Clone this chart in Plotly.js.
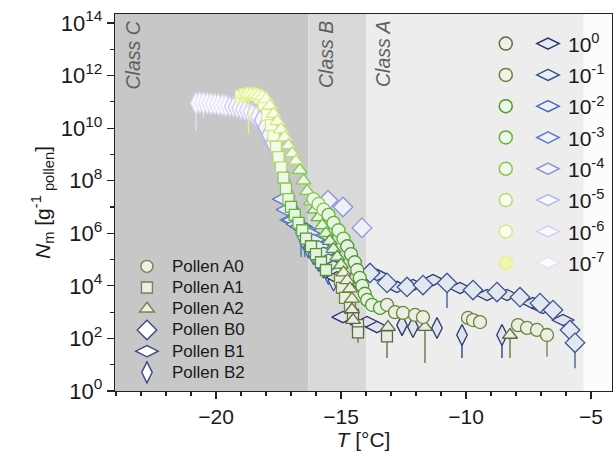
<!DOCTYPE html>
<html><head><meta charset="utf-8">
<script src="https://cdn.plot.ly/plotly-3.0.1.min.js"></script>
<style>html,body{margin:0;padding:0;background:#fff}#chart{width:614px;height:460px}</style>
</head><body><div id="chart"></div>
<script>
// ---------------- data ----------------
const DILUTION_LABELS = ['10<sup>0</sup>','10<sup>-1</sup>','10<sup>-2</sup>','10<sup>-3</sup>','10<sup>-4</sup>','10<sup>-5</sup>','10<sup>-6</sup>','10<sup>-7</sup>'];
const Y_TICK_VALUES = [1e0,1e2,1e4,1e6,1e8,1e10,1e12,1e14];
const Y_TICK_LABELS = ['10<sup>0</sup>','10<sup>2</sup>','10<sup>4</sup>','10<sup>6</sup>','10<sup>8</sup>','10<sup>10</sup>','10<sup>12</sup>','10<sup>14</sup>'];
const Y_MINOR_VALUES = [1e1,1e3,1e5,1e7,1e9,1e11,1e13];
const CLASS_EDGES = [-24.04, -16.3, -14.0, -5.3];
const CLASS_NAMES = ['Class C','Class B','Class A'];
const SERIES_NAMES = ['Pollen A0','Pollen A1','Pollen A2','Pollen B0','Pollen B1','Pollen B2'];

// Pollen A0 (circles)
const A0_T = [-16.1,-15.9,-15.7, -15.5,-15.3,-15.1,-14.9, -14.75,-14.6,-14.45,-14.35,-14.25,-14.15,-14.05, -13.95,-13.76,-13.44,-13.16,-12.84,-12.52,-12.04,-11.72, -9.92,-9.72,-9.44,-7.92,-7.56,-7.16,-6.76];
const A0_N = [2.0e7,1.3e7,7.9e6, 5.0e6,2.5e6,1.3e6,6.3e5, 3.2e5,1.6e5,7.9e4,4.0e4,2.0e4,1.0e4,5.0e3, 2.9e3,1.9e3,1.45e3,1.9e3,1.0e3,9.3e2,7.8e2,6.5e2, 6.0e2,5.0e2,4.2e2,3.2e2,2.5e2,2.1e2,1.35e2];
const A0_D = [4,4,4, 3,3,3,3, 2,2,2,2,2,2,2, 2,2,2,1,1,1,1,1, 1,1,1,1,1,1,1];
const A0_LOW = [null,null,null, null,null,null,null, null,null,null,null,null,null,null, null,null,null,null,null,null,null,null, null,null,null,null,null,null,20];

// Pollen A1 (squares)
const A1_T = [-19.0,-18.85,-18.7,-18.55,-18.4,-18.25, -18.1,-17.95,-17.8,-17.7, -17.6,-17.5,-17.4, -17.3,-17.2,-17.1, -17.0,-16.85,-16.7,-16.55, -16.4,-16.2,-16.0,-15.8,-15.6, -15.04,-14.96,-14.84,-14.64, -14.52,-14.32,-14.32,-13.16];
const A1_N = [1.6e11,1.9e11,2.0e11,2.0e11,1.8e11,1.4e11, 7.9e10,3.2e10,1.3e10,5.0e9, 2.0e9,7.9e8,3.2e8, 1.3e8,5.0e7,2.0e7, 1.0e7,5.0e6,2.5e6,1.3e6, 6.3e5,3.2e5,1.6e5,7.9e4,4.0e4, 1.7e4,8.3e3,3.5e3,1.5e3, 7.8e2,3.2e2,1.7e2,1.2e2];
const A1_D = [7,7,7,7,7,7, 6,6,6,6, 5,5,5, 4,4,4, 3,3,3,3, 2,2,2,2,2, 1,1,1,1, 0,0,0,0];
const A1_LOW = [null,null,6.3e9,null,null,null, null,null,null,null, null,null,null, null,null,null, null,null,null,null, null,null,null,null,null, null,null,null,null, null,null,68,18];

// Pollen A2 (triangles)
const A2_T = [-18.9,-18.75,-18.6,-18.45,-18.3,-18.15,-18.0, -17.85,-17.7,-17.55,-17.4,-17.25, -17.1,-16.95,-16.8, -16.65,-16.5,-16.35,-16.2, -16.05,-15.9,-15.75,-15.6, -15.45,-15.3,-15.15,-15.0, -14.9,-14.75,-14.64,-14.56, -14.56,-14.52,-13.12,-11.64,-8.24];
const A2_N = [1.8e11,2.0e11,2.0e11,1.9e11,1.8e11,1.6e11,1.26e11, 7.1e10,3.5e10,1.8e10,8.9e9,4.5e9, 2.2e9,1.1e9,5.6e8, 2.5e8,1.0e8,4.0e7,1.6e7, 7.9e6,4.0e6,2.0e6,1.0e6, 5.0e5,2.5e5,1.26e5,6.3e4, 3.2e4,1.6e4,7.9e3,3.2e3, 1.26e3,5.0e2,2.7e2,2.7e2,1.35e2];
const A2_D = [7,7,7,7,7,7,7, 6,6,6,6,6, 5,5,5, 4,4,4,4, 3,3,3,3, 2,2,2,2, 1,1,1,1, 0,0,0,0,0];
const A2_LOW = [null,null,null,null,null,null,null, null,null,null,null,null, null,null,null, null,null,null,null, null,null,null,null, null,null,null,null, null,null,null,null, null,null,null,11.5,18];

// Pollen B0 (diamonds)
const B0_T = [-15.52,-14.92,-14.16, -14.4,-13.84,-13.16,-12.36,-11.72,-10.76,-9.72,-8.76,-7.84,-7.04,-6.52,-5.84,-5.64];
const B0_N = [1.8e7,1.0e7,1.6e6, 2.0e4,3.1e4,1.3e4,9.1e3,1.07e4,1.29e4,6.9e3,5.8e3,3.7e3,2.2e3,1.2e3,2.1e2,68];
const B0_D = [4,4,4, 1,1,1,1,1,1,1,1,1,1,1,1,1];
const B0_LOW = [null,null,null, null,null,null,null,null,1.45e3,null,null,null,9.3e2,null,null,7.4];

// Pollen B1 (wide diamonds)
const B1_T = [-17.3,-17.15,-17.0, -16.9,-16.75,-16.6,-16.45,-16.3,-16.1,-15.9,-15.7,-15.5, -15.3,-15.15,-15.0, -15.16,-14.92,-13.96,-13.56, -14.2,-13.56,-12.76,-12.12,-11.32,-10.24,-9.16,-8.36,-7.32,-6.92,-6.12];
const B1_N = [2.0e7,7.9e6,3.2e6, 3.2e6,2.2e6,1.8e6,1.4e6,1.0e6,5.6e5,3.2e5,1.8e5,1.0e5, 5.6e4,3.2e4,2.0e4, 2.1e4,6.5e2,4.2e2,2.7e2, 2.5e4,2.6e4,9.1e3,1.07e4,1.66e4,8.3e3,4.5e3,4.5e3,2.2e3,1.45e3,5.0e2];
const B1_D = [3,3,3, 2,2,2,2,2,2,2,2,2, 1,1,1, 0,0,0,0, 0,0,0,0,0,0,0,0,0,0,0];
const B1_LOW = [null,null,null, null,null,1.26e5,1.26e5,1.26e5,null,null,null,null, null,null,null, null,null,null,null, null,null,null,null,null,null,null,null,null,null,null];

// Pollen B2 (tall diamonds)
const B2_T = [-20.8,-20.65,-20.5,-20.35,-20.2,-20.05,-19.9,-19.75,-19.6, -19.45,-19.3,-19.15,-19.0,-18.85,-18.7,-18.55,-18.4, -18.25,-18.1,-17.95,-17.8,-17.65, -17.5,-17.35,-17.2,-17.05, -16.9,-16.75,-16.6,-16.45, -16.3,-16.1,-15.9, -15.7,-15.5,-15.3, -14.6,-12.56,-12.12,-11.16,-10.16,-8.56];
const B2_N = [8.9e10,9.3e10,9.1e10,8.9e10,8.5e10,8.3e10,7.9e10,7.6e10,7.2e10, 6.6e10,6.2e10,5.8e10,5.2e10,4.8e10,4.2e10,3.5e10,2.8e10, 2.0e10,1.1e10,5.6e9,2.8e9,1.4e9, 6.3e8,2.2e8,7.9e7,2.5e7, 7.9e6,2.8e6,1.0e6,5.0e5, 2.8e5,1.6e5,8.9e4, 5.0e4,2.8e4,1.6e4, 7.9e2,3.2e2,2.7e2,2.5e2,1.35e2,1.35e2];
const B2_D = [7,7,7,7,7,7,7,7,7, 6,6,6,6,6,6,6,6, 5,5,5,5,5, 4,4,4,4, 3,3,3,3, 2,2,2, 1,1,1, 0,0,0,0,0,0];
const B2_LOW = [7.9e9,null,2.5e10,null,null,null,3.2e10,null,null, null,null,null,null,null,null,null,null, null,null,null,null,null, null,null,null,null, null,null,null,null, null,null,null, null,null,null, null,null,null,null,18,18];

// ---------------- styles ----------------
const PAL_A = ['#5e6a3c','#6e8436','#4f9a2c','#5db536','#86c84e','#b5dc72','#d4ea80','#e6f290'];
const PAL_B = ['#26366e','#3a5690','#4a6cb0','#5e7cc8','#8c94d6','#b2b6e4','#cfd0f0','#e2e2f6'];
const FONT = 'Liberation Sans, Arial, sans-serif';

function tint(hex, f) {
  const n = parseInt(hex.slice(1), 16);
  const r = (n >> 16) & 255, g = (n >> 8) & 255, b = n & 255;
  const m = v => Math.round(v + (255 - v) * f);
  return 'rgb(' + m(r) + ',' + m(g) + ',' + m(b) + ')';
}

const SERIES = [
  {T:B2_T, N:B2_N, D:B2_D, L:B2_LOW, symbol:'diamond-tall', size:15, pal:PAL_B},
  {T:B1_T, N:B1_N, D:B1_D, L:B1_LOW, symbol:'diamond-wide', size:16, pal:PAL_B},
  {T:B0_T, N:B0_N, D:B0_D, L:B0_LOW, symbol:'diamond', size:15, pal:PAL_B},
  {T:A1_T, N:A1_N, D:A1_D, L:A1_LOW, symbol:'square', size:11, pal:PAL_A},
  {T:A2_T, N:A2_N, D:A2_D, L:A2_LOW, symbol:'triangle-up', size:13, pal:PAL_A},
  {T:A0_T, N:A0_N, D:A0_D, L:A0_LOW, symbol:'circle', size:13, pal:PAL_A}
];

const traces = [];
SERIES.forEach(s => {
  for (let d = 7; d >= 0; d--) {
    const idx = s.D.map((v, i) => v === d ? i : -1).filter(i => i >= 0);
    if (!idx.length) continue;
    traces.push({
      type:'scatter', mode:'markers', showlegend:false, hoverinfo:'skip',
      x: idx.map(i => s.T[i]), y: idx.map(i => s.N[i]),
      marker:{symbol:s.symbol, size:s.size, color:tint(s.pal[d], 0.86), line:{color:s.pal[d], width:1.3}},
      error_y:{type:'data', symmetric:false, array:idx.map(() => 0),
               arrayminus: idx.map(i => s.L[i] == null ? 0 : s.N[i] - s.L[i]),
               color:s.pal[d], thickness:1.3, width:0}
    });
  }
});

// legend 1: pollen types
const LEG_SYMBOLS = ['circle','square','triangle-up','diamond','diamond-wide','diamond-tall'];
const LEG_SIZES = [12,11,13,15,16,15];
SERIES_NAMES.forEach((nm, i) => {
  const isA = i < 3;
  traces.push({type:'scatter', mode:'markers', x:[null], y:[null],
    name:'<span style="font-size:17px">' + nm + '</span>', legend:'legend',
    marker:{symbol:LEG_SYMBOLS[i], size:LEG_SIZES[i], color:isA ? '#eef0e0' : '#ffffff',
            line:{color:isA ? '#76825a' : '#3d4888', width:1.4}}});
});
// legend 3: circles (A dilutions); legend 2: diamonds + labels (B dilutions)
DILUTION_LABELS.forEach((lab, d) => {
  traces.push({type:'scatter', mode:'markers', x:[null], y:[null], name:' ', legend:'legend3', legendgroup:'c'+d,
    marker:{symbol:'circle', size:13, color:d === 7 ? tint(PAL_A[d], 0.3) : tint(PAL_A[d], 0.9), line:{color:PAL_A[d], width:1.5}}});
  traces.push({type:'scatter', mode:'markers', x:[null], y:[null], name:lab, legend:'legend2', legendgroup:'d'+d,
    marker:{symbol:'diamond-wide', size:16, color:tint(PAL_B[d], 0.9), line:{color:PAL_B[d], width:1.5}}});
});

const CLASS_FILLS = ['#c7c7c7','#d9d9d9','#ededed'];
const shapes = CLASS_NAMES.map((c, i) => ({type:'rect', xref:'x', yref:'paper', x0:CLASS_EDGES[i], x1:CLASS_EDGES[i+1],
  y0:0, y1:1, fillcolor:CLASS_FILLS[i], line:{width:0}, layer:'below'}));
const annotations = CLASS_NAMES.map((c, i) => ({xref:'x', yref:'paper', x:CLASS_EDGES[i], y:1, xanchor:'left', yanchor:'top',
  xshift:4, yshift:-5, text:'<i>' + c + '</i>', textangle:-90, showarrow:false,
  font:{family:FONT, size:19.5, color:'#606060'}}));

const layout = {
  width:614, height:460,
  margin:{l:115, r:2, t:14, b:69, autoexpand:false},
  paper_bgcolor:'#ffffff', plot_bgcolor:'#fcfcfc',
  font:{family:FONT, color:'#1a1a1a'},
  xaxis:{range:[-24.04, -4.16], dtick:5, tick0:0, ticks:'outside', ticklen:7, tickwidth:1.2, tickcolor:'#222',
    minor:{dtick:1, tick0:0, ticks:'outside', ticklen:4, tickwidth:1.2, tickcolor:'#222'},
    showline:true, linecolor:'#222', linewidth:1.2, mirror:true, showgrid:false, zeroline:false,
    tickfont:{family:FONT, size:21, color:'#1a1a1a'},
    title:{text:'<i>T</i> [°C]', font:{family:FONT, size:21, color:'#1a1a1a'}, standoff:2}},
  yaxis:{type:'log', range:[0, 14.34], tickmode:'array', tickvals:Y_TICK_VALUES, ticktext:Y_TICK_LABELS,
    ticks:'outside', ticklen:7, tickwidth:1.2, tickcolor:'#222',
    minor:{tickmode:'array', tickvals:Y_MINOR_VALUES, ticks:'outside', ticklen:4, tickwidth:1.2, tickcolor:'#222'},
    showline:true, linecolor:'#222', linewidth:1.2, mirror:true, showgrid:false, zeroline:false,
    tickfont:{family:FONT, size:22, color:'#1a1a1a'},
    title:{text:'<i>N</i><sub>m</sub> [g<sup>-1</sup><sub> pollen</sub>]', font:{family:FONT, size:21, color:'#1a1a1a'}, standoff:4}},
  showlegend:true,
  legend:{x:0.014, y:0.372, xanchor:'left', yanchor:'top', bgcolor:'rgba(0,0,0,0)', borderwidth:0,
    font:{family:FONT, size:14, color:'#1a1a1a'}, itemsizing:'trace', itemwidth:40},
  legend2:{x:0.831, y:0.975, xanchor:'left', yanchor:'top', bgcolor:'rgba(0,0,0,0)', borderwidth:0,
    font:{family:FONT, size:21, color:'#1a1a1a'}, tracegroupgap:1, itemsizing:'trace', itemwidth:30},
  legend3:{x:0.746, y:0.975, xanchor:'left', yanchor:'top', bgcolor:'rgba(0,0,0,0)', borderwidth:0,
    font:{family:FONT, size:21, color:'#1a1a1a'}, tracegroupgap:1, itemsizing:'trace'},
  shapes, annotations
};

Plotly.newPlot('chart', traces, layout, {displayModeBar:false, staticPlot:true});
</script></body></html>
